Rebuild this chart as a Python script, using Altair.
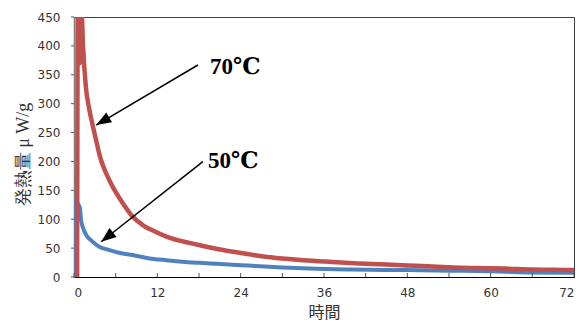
import math
import altair as alt
import pandas as pd

# ---- data ----
t_70 = [0.45, 0.55, 0.85, 1.05, 1.3, 1.7, 2.2, 2.7, 3.2, 3.7, 4.5, 5.2, 6.1, 7.0, 8.4, 10, 11.8,
        13.3, 16.6, 18.1, 20.5, 24.3, 27, 30, 33, 37.2, 41, 45, 48, 51, 54.6, 58, 62, 66, 69, 72]
v_70 = [0, 470, 370, 470, 400, 330, 290, 262, 236, 210, 183, 165, 145, 128, 105, 89, 78,
        70, 59, 55, 49, 41, 36, 32, 29, 26, 23.5, 21.5, 20, 18.5, 16.5, 15.5, 14.5, 13, 12.5, 12]

t_50 = [0.05, 0.15, 0.5, 0.85, 1.0, 1.3, 1.8, 2.5, 3.7, 5, 6.5, 8.4, 10.5, 13.3, 16, 18.1, 20.5,
        24, 26.8, 30, 34, 40, 45, 48, 54, 60, 62, 66, 72]
v_50 = [0, 135, 128, 120, 100, 85, 72, 63, 52, 47, 42, 38, 33, 29, 26, 24.5, 23,
        20.5, 18.5, 16.5, 14.5, 13, 12.3, 12, 11, 10, 9.3, 8, 7.5]

x_ticks = list(range(0, 73, 6))
y_ticks = list(range(0, 451, 50))

labels = ["70℃", "50℃"]
label_t = [19.6, 19.3]
label_v = [363, 200]

arrow_tail_t = [17.84, 18.56]
arrow_tail_v = [366.9, 199.6]
arrow_tip_t = [3.2, 3.92]
arrow_tip_v = [263, 61]

W, H = 500, 260
XMAX, YMAX = 72, 450

# ---- tables ----
df50 = pd.DataFrame({"t": t_50, "v": v_50})
df70 = pd.DataFrame({"t": t_70, "v": v_70})

rows = []
heads = []
for i in range(len(arrow_tip_t)):
    rows.append({"t": arrow_tail_t[i], "v": arrow_tail_v[i], "g": i, "o": 0})
    rows.append({"t": arrow_tip_t[i], "v": arrow_tip_v[i], "g": i, "o": 1})
    dx = (arrow_tip_t[i] - arrow_tail_t[i]) * W / XMAX
    dy = -(arrow_tip_v[i] - arrow_tail_v[i]) * H / YMAX
    ang = math.degrees(math.atan2(dx, -dy)) % 360
    heads.append({"t": arrow_tip_t[i], "v": arrow_tip_v[i], "a": ang})
df_arrows = pd.DataFrame(rows)
df_heads = pd.DataFrame(heads)
df_labels = pd.DataFrame({"label": labels, "t": label_t, "v": label_v})
df_xt = pd.DataFrame({"t": x_ticks})
df_yt = pd.DataFrame({"v": y_ticks})

xs = alt.Scale(domain=[0, XMAX], nice=False, zero=False)
ys = alt.Scale(domain=[0, YMAX], nice=False)

axis_font = "DejaVu Sans"
serif_font = "Times New Roman, Liberation Serif, DejaVu Serif, serif"

x_axis = alt.Axis(
    values=x_ticks,
    labelExpr="datum.value % 12 === 0 ? datum.label : ''",
    ticks=False, tickSize=0, grid=False,
    labelFont=axis_font, labelFontSize=12, labelColor="#333333", labelPadding=10,
    domainColor="#000000", domainWidth=1,
    title="時間", titleFont="Noto Sans CJK JP", titleFontSize=16, titleFontWeight="normal",
    titleColor="#333333", titleY=35, titleBaseline="middle",
)
y_axis = alt.Axis(
    values=y_ticks,
    ticks=False, tickSize=0, grid=False,
    labelFont=axis_font, labelFontSize=12, labelColor="#333333", labelPadding=14,
    domainColor="#808080", domainWidth=1.5,
    title="発熱量 μ W/g", titleFont=serif_font, titleFontSize=18, titleFontWeight="normal",
    titleColor="#333333", titleAngle=-90, titleX=-51, titleY=137,
    titleAlign="center", titleBaseline="middle",
)

X = alt.X("t:Q", scale=xs, axis=x_axis)
Y = alt.Y("v:Q", scale=ys, axis=y_axis)

blue = alt.Chart(df50).mark_line(color="#4F81BD", strokeWidth=4, clip=True,
                                 strokeJoin="round", interpolate="monotone").encode(
    x=X, y=Y, order="t:Q",
)
red = alt.Chart(df70).mark_line(color="#C0504D", strokeWidth=4.5, clip=True,
                                strokeJoin="round", interpolate="monotone").encode(
    x=X, y=Y, order="t:Q",
)
arrows = alt.Chart(df_arrows).mark_line(color="#000000", strokeWidth=1.5).encode(
    x=X, y=Y, detail="g:N", order="o:Q",
)
heads_layer = alt.Chart(df_heads).mark_point(
    shape="M0,0L-0.38,1L0.38,1Z", filled=True, color="#000000", opacity=1, size=900, strokeWidth=0
).encode(
    x=X, y=Y, angle=alt.Angle("a:Q", scale=None),
)
texts = alt.Chart(df_labels).mark_text(
    align="left", baseline="middle", font=serif_font,
    fontSize=23, fontWeight="bold", color="#000000"
).encode(
    x=X, y=Y, text="label:N",
)
xticks = alt.Chart(df_xt).mark_rule(color="#555555", strokeWidth=1).encode(
    x=X, y=alt.value(H), y2=alt.value(H - 4),
)
yticks = alt.Chart(df_yt).mark_rule(color="#555555", strokeWidth=1).encode(
    y=Y, x=alt.value(-3), x2=alt.value(0),
)

chart = alt.layer(blue, red, arrows, heads_layer, texts, xticks, yticks).properties(
    width=W, height=H,
    padding={"left": 74, "top": 17, "right": 8, "bottom": 45},
    autosize="none",
    background="#ffffff",
).configure_view(stroke="#404040", strokeWidth=1)

chart.save("out.html", embed_options={"renderer": "svg", "actions": False})
